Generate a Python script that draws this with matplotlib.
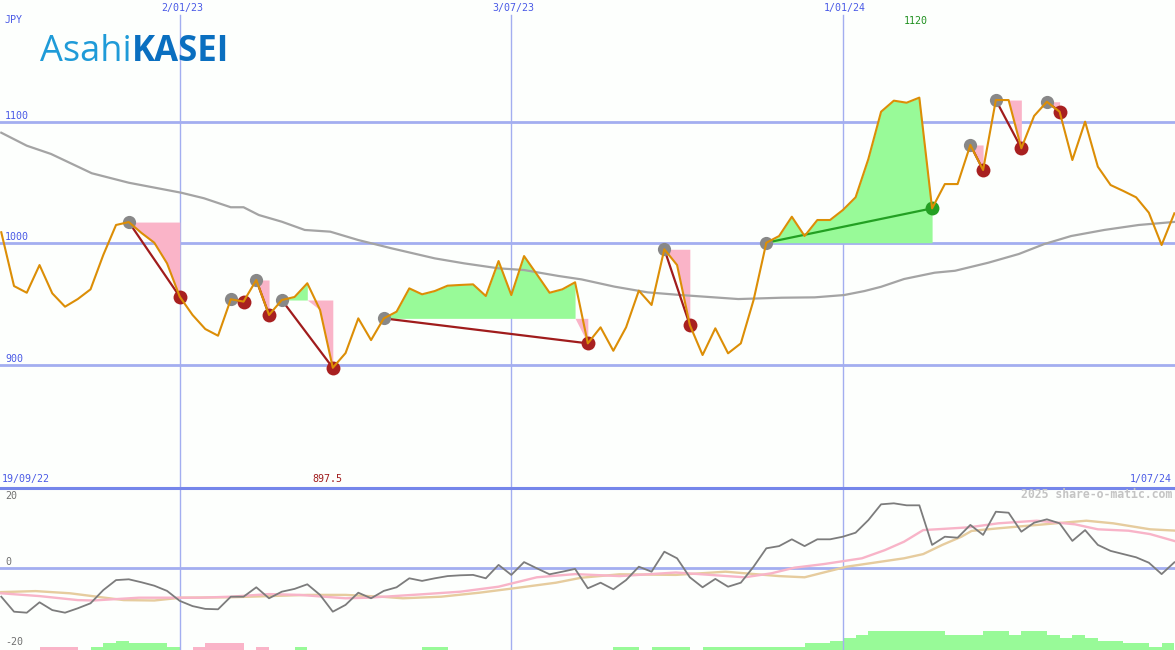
import matplotlib
matplotlib.use('Agg')
import matplotlib.pyplot as plt
import numpy as np

W, H = 1175, 650

# weekly closes (JPY), first point 26/09/22
price = [1009.1, 964.8, 959.3, 982.1, 958.8, 947.8, 954.1, 962.1, 990.4, 1015.1,
         1017.5, 1008.5, 1000.5, 983.5, 956.0, 941.0, 929.4, 923.9, 953.9, 952.0,
         969.8, 941.0, 953.3, 955.8, 967.1, 945.1, 897.5, 909.6, 938.2, 920.3,
         938.2, 943.7, 962.9, 958.0, 960.7, 965.1, 965.7, 966.2, 956.6, 985.4,
         957.4, 989.5, 974.5, 959.3, 962.1, 967.9, 917.6, 930.8, 911.5, 930.8,
         961.0, 949.2, 995.1, 982.1, 932.7, 908.0, 930.0, 909.4, 917.6, 953.3,
         1000.5, 1006.0, 1021.9, 1006.0, 1019.2, 1019.2, 1027.4, 1037.9, 1069.4, 1108.4,
         1117.5, 1115.8, 1120.0, 1028.8, 1048.8, 1048.8, 1081.0, 1060.4, 1118.0, 1118.0,
         1078.3, 1104.9, 1116.6, 1108.4, 1068.6, 1100.2, 1063.1, 1048.0, 1043.1, 1037.9,
         1025.2, 998.6, 1024.7]

# long moving average (read at week positions)
ma_w = [0, 2, 3.9, 7.1, 10, 12.3, 14.1, 15.9, 18, 19, 20.2, 22, 23.8, 25.8, 28, 30.6,
        34, 36.3, 39, 41, 43.7, 45.5, 48.1, 50.7, 53.3, 55.9, 57.8, 61.2, 63.8, 66.1,
        67.7, 69, 70.8, 73.2, 74.8, 77.4, 79.8, 81.8, 83.9, 86.5, 89.2, 92.2]
ma_v = [1091.1, 1080.4, 1073.6, 1057.7, 1049.9, 1045.3, 1041.7, 1037.1, 1029.7, 1029.7,
        1023.3, 1017.8, 1011.0, 1009.6, 1002.7, 995.9, 987.6, 983.5, 979.4, 978.0,
        973.1, 970.3, 964.3, 959.6, 957.4, 955.5, 954.1, 955.2, 955.5, 957.4,
        960.7, 964.2, 970.6, 975.8, 977.4, 984.0, 991.2, 999.4, 1006.0, 1011.0, 1015.1, 1017.8]

# trades: entry week / exit week
entries = [10, 18, 20, 22, 30, 52, 60, 76, 78, 82]
exits = [14, 19, 21, 26, 46, 54, 73, 77, 80, 83]

# lower panel
momentum = [-7.25, -11, -11.25, -8.65, -10.6, -11.25, -10.15, -8.9, -5.6, -3.1,
            -2.9, -3.65, -4.5, -5.8, -8.3, -9.6, -10.3, -10.4, -7.25, -7.25,
            -4.9, -7.65, -6, -5.3, -4.15, -6.8, -11, -9.3, -6.25, -7.65,
            -5.8, -4.9, -2.65, -3.3, -2.65, -2.1, -1.9, -1.8, -2.65, 0.7,
            -1.8, 1.4, -0.15, -1.65, -1, -0.3, -5.15, -3.75, -5.4, -3.1,
            0.25, -1, 4, 2.35, -2.4, -4.9, -2.8, -4.75, -3.75, 0.25,
            4.85, 5.4, 7.1, 5.4, 7.1, 7.1, 7.75, 8.75, 11.9, 15.85,
            16.1, 15.6, 15.6, 5.7, 7.75, 7.5, 10.7, 8.2, 14, 13.75,
            9, 11.25, 12.1, 11.1, 6.7, 9.4, 5.7, 4.2, 3.4, 2.6,
            1.25, -1.6, 1.35]

pk_w = [0, 3.0, 6.0, 7.2, 10.8, 15.6, 18, 21, 23.4, 27, 28.8, 33, 36, 39, 42, 45,
        48.5, 52.9, 58.3, 60.4, 62.2, 64.5, 67.5, 69.3, 70.8, 72.3, 75.9, 78.2, 81.2,
        84.2, 86, 88.4, 90.1, 92.2]
pk_v = [-6.4, -7.1, -8.1, -8.2, -7.5, -7.5, -7.25, -6.6, -6.8, -7.65, -7.5, -6.65, -6,
        -4.75, -2.4, -1.6, -2.1, -1.2, -2.4, -1.4, 0, 0.9, 2.35, 4.4, 6.5, 9.4, 10.1,
        11.1, 11.75, 10.85, 9.6, 9.25, 8.4, 6.5]

tn_w = [0, 2.7, 5.4, 7.5, 9.6, 12, 14.1, 18, 24, 27, 30, 31.5, 34.5, 37.5, 40.2, 43.5,
        45.5, 48.5, 52.9, 56.8, 61, 63, 66.3, 70.8, 72.3, 73.8, 75.3, 76.1, 78.2, 82.7,
        85.1, 87.2, 90.1, 92.2]
tn_v = [-6.1, -5.85, -6.4, -7.25, -8.1, -8.2, -7.5, -7.4, -6.8, -6.8, -7.3, -7.65,
        -7.25, -6.25, -5.15, -3.75, -2.5, -1.65, -1.8, -1, -2.1, -2.4, 0.25, 2.35, 3.4,
        5.7, 7.75, 9.2, 9.85, 11.1, 11.75, 11.1, 9.6, 9.25]

hist = [0, 0, 0, -0.8, -0.8, -0.8, 0, 0.8, 1.7, 2.3,
        1.7, 1.7, 1.7, 0.8, 0, -0.8, -1.7, -1.7, -1.7, 0,
        -0.8, 0, 0, 0.8, 0, 0, 0, 0, 0, 0,
        0, 0, 0, 0.8, 0.8, 0, 0, 0, 0, 0,
        0, 0, 0, 0, 0, 0, 0, 0, 0.8, 0.8,
        0, 0.8, 0.8, 0.8, 0, 0.8, 0.8, 0.8, 0.8, 0.8,
        0.8, 0.8, 0.8, 1.7, 1.7, 2.3, 3.1, 3.8, 4.8, 4.8,
        4.8, 4.8, 4.8, 4.8, 3.8, 3.8, 3.8, 4.8, 4.8, 3.8,
        4.8, 4.8, 3.8, 3.1, 3.8, 3.1, 2.3, 2.3, 1.7, 1.7,
        0.8, 1.7]

tick_pos = [14, 40, 66]
tick_lab = ['2/01/23', '3/07/23', '1/01/24']
price_grid = [900, 1000, 1100]

BG = '#fdfffd'
BLUE_TXT = '#4a5ae6'
GRID = '#a3aef0'
GREEN_FILL = '#98fa98'
PINK_FILL = '#fab4c8'

p = np.array(price)
wk = np.arange(len(p))
xlim = (-0.1, 92.05)

fig = plt.figure(figsize=(W / 100, H / 100), dpi=100, facecolor=BG)


def ftext(x, y, s, **kw):
    kw.setdefault('family', 'DejaVu Sans Mono')
    kw.setdefault('fontsize', 7.2)
    kw.setdefault('color', BLUE_TXT)
    kw.setdefault('va', 'center')
    return fig.text(x / W, 1 - y / H, s, **kw)


# ---- price panel ----
ax = fig.add_axes([0, 163 / H, 1, 487 / H])
ax.set_facecolor(BG)
ax.set_xlim(*xlim)
ax.set_ylim(799.3, 1200.4)
ax.axis('off')

for g in price_grid:
    ax.axhline(g, color=GRID, lw=2, zorder=1)
for t in tick_pos:
    ax.axvline(t, ymax=1 - 15 / 487, color=GRID, lw=1, zorder=1)

for e, x in zip(entries, exits):
    seg = np.arange(e, x + 1)
    ps = p[seg]
    lvl = p[e]
    up = ps >= lvl
    ax.fill_between(seg, lvl, ps, where=up, color=GREEN_FILL, lw=0, zorder=2)
    down = ps < lvl
    down_mask = down | np.append(down[1:], False)
    ax.fill_between(seg, lvl, np.minimum(ps, lvl), where=down_mask,
                    color=PINK_FILL, lw=0, zorder=2)

ax.plot(ma_w, ma_v, color='#a4a4a4', lw=1.6, zorder=3)

for e, x in zip(entries, exits):
    win = p[x] > p[e]
    lc = '#23a023' if win else '#a01c1c'
    ax.plot([e, x], [p[e], p[x]], color=lc, lw=1.6, zorder=4)
    ax.plot(e, p[e], 'o', color='#888888', ms=9.5, mec='none', zorder=5)
    ax.plot(x, p[x], 'o', color='#23a023' if win else '#a82020',
            ms=10, mec='none', zorder=5)

ax.plot(wk, p, color='#dc8e06', lw=1.5, zorder=6)

# ---- indicator panel ----
ax2 = fig.add_axes([0, 0, 1, 163 / H])
ax2.set_facecolor(BG)
ax2.set_xlim(*xlim)
ylo, yhi = -20.58, 20.18
ax2.set_ylim(ylo, yhi)
ax2.axis('off')

h = np.array(hist)
ax2.bar(np.arange(len(h)), np.abs(h), width=1, bottom=ylo, align='edge',
        color=np.where(h >= 0, GREEN_FILL, PINK_FILL), lw=0, zorder=1)
for t in tick_pos:
    ax2.axvline(t, color=GRID, lw=1, zorder=1)
ax2.axhline(0, color=GRID, lw=2, zorder=2)
ax2.plot(tn_w, tn_v, color='#e6cc9e', lw=1.7, zorder=3)
ax2.plot(pk_w, pk_v, color='#f8b4c8', lw=1.7, zorder=3)
ax2.plot(wk, momentum, color='#7c7c7c', lw=1.3, zorder=4)

fig.add_artist(plt.Line2D([0, 1], [1 - 487.5 / H] * 2, transform=fig.transFigure,
                          color='#7586ea', lw=2.2))

# ---- texts ----
ftext(5, 20, 'JPY')
for t, lab in zip(tick_pos, tick_lab):
    xp = (t - xlim[0]) / (xlim[1] - xlim[0]) * W
    ftext(xp + 2, 8, lab, ha='center')
for g in price_grid:
    yp = (1200.4 - g) / (1200.4 - 799.3) * 487
    ftext(5, yp - 6, str(g))

imax = int(np.argmax(p))
imin = int(np.argmin(p))
px = lambda i: (i - xlim[0]) / (xlim[1] - xlim[0]) * W
ftext(px(imax) - 4, 21, f'{p[imax]:.0f}', ha='center', color='#1f901f')
ftext(px(imin) - 5, 479, f'{p[imin]:.1f}', ha='center', color='#a01c1c')
ftext(2, 479, '19/09/22')
ftext(1172, 479, '1/07/24', ha='right')
ftext(1172, 495, '2025 share-o-matic.com', ha='right', color='#c4c4c4',
      fontsize=8.3, fontweight='bold')
for yv, lab in [(496, '20'), (562, '0'), (642, '-20')]:
    ftext(5, yv, lab, color='#707070')

# logo
r = fig.canvas.get_renderer()
t1 = ftext(40, 61, 'Asahi', family='Open Sans', fontsize=26, color='#1f9bd8',
           va='baseline')
bb = t1.get_window_extent(renderer=r)
fig.text((bb.x1 + 0.5) / W, 1 - 61 / H, 'KASEI', family='Open Sans', fontsize=25,
         fontweight='bold', color='#0a6fc0', va='baseline')

fig.savefig('out.png', dpi=100, facecolor=BG)
